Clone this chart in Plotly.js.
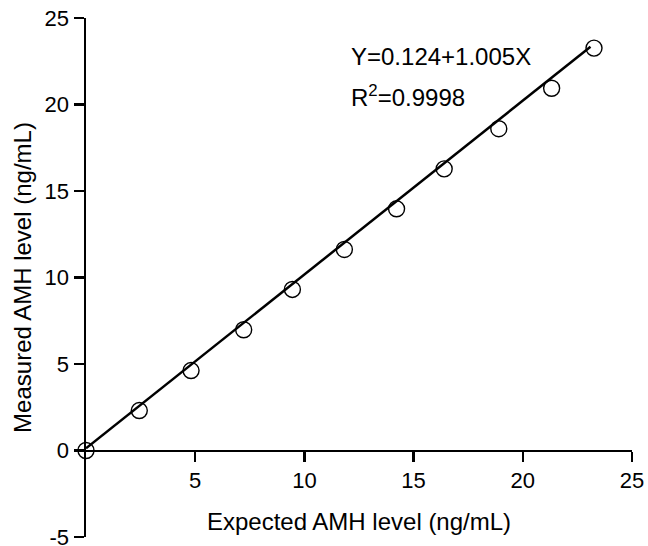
<!DOCTYPE html>
<html>
<head>
<meta charset="utf-8">
<script src="https://cdn.plot.ly/plotly-3.0.1.min.js"></script>
<style>html,body{margin:0;padding:0;background:#fff;}#chart{width:648px;height:546px;}</style>
</head>
<body>
<div id="chart"></div>
<script>
// Data
const expected = [0, 2.44, 4.81, 7.22, 9.45, 11.83, 14.22, 16.4, 18.9, 21.32, 23.26];
const measured = [0, 2.31, 4.62, 6.98, 9.31, 11.62, 13.97, 16.28, 18.6, 20.94, 23.26];
// Fitted line endpoints (Y = 0.124 + 1.005X)
const fitX = [0, 23.1];
const fitY = [0.124, 23.34];
const xTicks = [5, 10, 15, 20, 25];
const xTickText = ['5', '10', '15', '20', '25'];
const yTicks = [-5, 0, 5, 10, 15, 20, 25];
const yTickText = ['-5', '0', '5', '10', '15', '20', '25'];
const eqText = 'Y=0.124+1.005X';
const r2Text = 'R<sup>2</sup>=0.9998';

const font = 'Liberation Sans, Arial, sans-serif';

const traces = [
  {x: fitX, y: fitY, mode: 'lines', type: 'scatter',
   line: {color: '#000', width: 2.5}, hoverinfo: 'skip', showlegend: false, cliponaxis: false},
  {x: expected, y: measured, mode: 'markers', type: 'scatter',
   marker: {symbol: 'circle-open', size: 16, color: '#000', line: {color: '#000', width: 1.4}},
   showlegend: false, cliponaxis: false}
];

const layout = {
  width: 648, height: 546,
  margin: {l: 86, r: 16, t: 18, b: 9},
  paper_bgcolor: '#fff', plot_bgcolor: '#fff',
  font: {family: font, color: '#000', size: 22},
  showlegend: false,
  xaxis: {
    range: [0, 25], anchor: 'free', position: 5/30,
    tickvals: xTicks, ticktext: xTickText,
    ticks: 'outside', ticklen: 10, tickwidth: 2.5, tickcolor: '#000',
    showline: true, linecolor: '#000', linewidth: 2.5,
    showgrid: false, zeroline: false,
    ticklabeloverflow: 'allow',
    tickfont: {family: font, size: 22, color: '#000'},
    title: {text: 'Expected AMH level (ng/mL)', font: {family: font, size: 24, color: '#000'}, standoff: 20}
  },
  yaxis: {
    range: [-5, 25],
    tickvals: yTicks, ticktext: yTickText,
    ticks: 'outside', ticklen: 10, tickwidth: 2.5, tickcolor: '#000',
    showline: true, linecolor: '#000', linewidth: 2.5,
    showgrid: false, zeroline: false,
    ticklabeloverflow: 'allow',
    tickfont: {family: font, size: 22, color: '#000'},
    title: {text: 'Measured AMH level (ng/mL)', font: {family: font, size: 24, color: '#000'}, standoff: 6}
  },
  annotations: [
    {x: 12.05, y: 22.8, xref: 'x', yref: 'y', text: eqText, showarrow: false,
     xanchor: 'left', yanchor: 'middle', font: {family: font, size: 24, color: '#000'}},
    {x: 12.05, y: 20.5, xref: 'x', yref: 'y', text: r2Text, showarrow: false,
     xanchor: 'left', yanchor: 'middle', font: {family: font, size: 24, color: '#000'}}
  ]
};

Plotly.newPlot('chart', traces, layout, {displayModeBar: false, staticPlot: true});
</script>
</body>
</html>
